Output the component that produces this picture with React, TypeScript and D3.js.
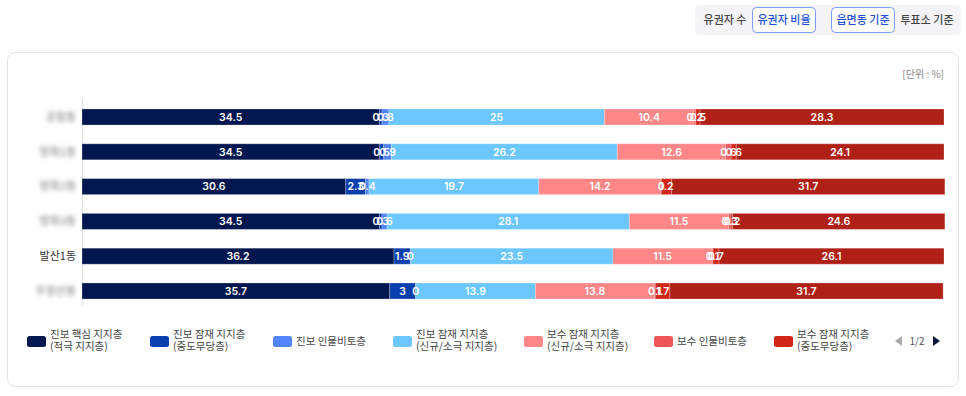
import React from "react";
import * as d3 from "d3";

const regions = ["공항동", "방화1동", "방화2동", "방화3동", "발산1동", "우장산동"];
const blurred = [true, true, true, true, false, true];

const seriesNames = [
  "진보 핵심 지지층 (적극 지지층)",
  "진보 잠재 지지층 (중도무당층)",
  "진보 인물비토층",
  "진보 잠재 지지층 (신규/소극 지지층)",
  "보수 잠재 지지층 (신규/소극 지지층)",
  "보수 인물비토층",
  "보수 잠재 지지층 (중도무당층)",
  "보수 핵심 지지층 (적극 지지층)",
];
const seriesColors = ["#02164F", "#0A3FAE", "#5284FA", "#6CC6FF", "#FF8787", "#F0555A", "#D12617", "#AF2116"];

const progCore = [34.5, 34.5, 30.6, 34.5, 36.2, 35.7];
const progModerate = [0.3, 0.5, 2.3, 0.3, 1.9, 3];
const progVeto = [0.8, 0.9, 0.4, 0.6, 0, 0];
const progNew = [25, 26.2, 19.7, 28.1, 23.5, 13.9];
const consNew = [10.4, 12.6, 14.2, 11.5, 11.5, 13.8];
const consVeto = [0.2, 0.6, 0, 0.3, 0.1, 0.1];
const consModerate = [0.5, 0.6, 1.2, 0.2, 0.7, 1.7];
const consCore = [28.3, 24.1, 31.7, 24.6, 26.1, 31.7];

const seriesValues = [progCore, progModerate, progVeto, progNew, consNew, consVeto, consModerate, consCore];

const legendLine1 = ["진보 핵심 지지층", "진보 잠재 지지층", "진보 인물비토층", "진보 잠재 지지층", "보수 잠재 지지층", "보수 인물비토층", "보수 잠재 지지층"];
const legendLine2 = ["(적극 지지층)", "(중도무당층)", "", "(신규/소극 지지층)", "(신규/소극 지지층)", "", "(중도무당층)"];

const KFONT = "'Noto Sans CJK KR', 'Noto Sans', sans-serif";

export default function App() {
  const W = 966, H = 396;
  const x = d3.scaleLinear().domain([0, 100]).range([82, 944]);
  const y = d3.scaleBand<string>().domain(regions).range([99.6, 308.4]).paddingInner(0.54).paddingOuter(0.27);

  const table = regions.map((r, i) => {
    const row: any = { region: r };
    seriesNames.forEach((s, j) => (row[s] = seriesValues[j][i]));
    return row;
  });
  const stacked = d3.stack<any>().keys(seriesNames)(table);

  const legendX = [27, 150, 273, 393, 524, 654, 774];

  return (
    <svg width={W} height={H} style={{ position: "absolute", left: 0, top: 0, background: "#fff" }} fontFamily={KFONT}>
      <defs>
        <filter id="blur" x="-20%" y="-50%" width="140%" height="200%">
          <feGaussianBlur stdDeviation="2" />
        </filter>
      </defs>
      {/* top toggle group */}
      <rect x={695} y={5} width={266} height={30} rx={5} fill="#F4F4F6" />
      <text x={725} y={24} fontSize={11} fontWeight={500} fill="#444" textAnchor="middle">유권자 수</text>
      <rect x={752.5} y={7.5} width={63} height={25} rx={4} fill="#fff" stroke="#7B9BFF" />
      <text x={784} y={24} fontSize={11} fontWeight={500} fill="#2250D9" textAnchor="middle">유권자 비율</text>
      <rect x={831.5} y={7.5} width={63} height={25} rx={4} fill="#fff" stroke="#7B9BFF" />
      <text x={863} y={24} fontSize={11} fontWeight={500} fill="#2250D9" textAnchor="middle">읍면동 기준</text>
      <text x={927} y={24} fontSize={11} fontWeight={500} fill="#444" textAnchor="middle">투표소 기준</text>

      {/* card */}
      <rect x={7.5} y={52.5} width={951} height={334} rx={8} fill="#fff" stroke="#E3E3E6" />
      <text x={944} y={78} fontSize={10} fill="#888" textAnchor="end">[단위 : %]</text>

      {/* y axis */}
      <line x1={82.5} x2={82.5} y1={98} y2={306} stroke="#DDDDDD" />
      {regions.map((r, i) => (
        <text key={r} x={76} y={(y(r) as number) + y.bandwidth() / 2} dy="0.35em" fontSize={11} fill={blurred[i] ? "#777" : "#333"} textAnchor="end" filter={blurred[i] ? "url(#blur)" : undefined}>
          {r}
        </text>
      ))}

      {/* bars */}
      {stacked.map((layer, j) => (
        <g key={layer.key}>
          {layer.map((d, i) => (
            <rect key={i} x={x(d[0])} y={y(regions[i]) as number} width={Math.max(0, x(d[1]) - x(d[0]))} height={y.bandwidth()} fill={seriesColors[j]} stroke="#ffffff" strokeOpacity={0.25} strokeWidth={1} />
          ))}
        </g>
      ))}
      {stacked.map((layer, j) => (
        <g key={"l" + layer.key}>
          {layer.map((d, i) => (
            <text key={i} x={(x(d[0]) + x(d[1])) / 2} y={(y(regions[i]) as number) + y.bandwidth() / 2} dy="0.36em" fontSize={10.5} fontWeight={600} fill="#fff" textAnchor="middle" fontFamily="Inter, 'Noto Sans', sans-serif">
              {String(seriesValues[j][i])}
            </text>
          ))}
        </g>
      ))}

      {/* legend */}
      {legendLine1.map((t, k) => (
        <g key={k} transform={`translate(${legendX[k]},0)`}>
          <rect x={0} y={336} width={19} height={11} rx={2.5} fill={seriesColors[k]} />
          {legendLine2[k] ? (
            <>
              <text x={23} y={338} fontSize={10.5} fill="#444">{t}</text>
              <text x={23} y={350} fontSize={10.5} fill="#444">{legendLine2[k]}</text>
            </>
          ) : (
            <text x={23} y={345} fontSize={10.5} fill="#444">{t}</text>
          )}
        </g>
      ))}
      <path d="M895,341 L902,336 L902,346 Z" fill="#AAAAAA" />
      <text x={917} y={345} fontSize={10} fill="#555" textAnchor="middle">1/2</text>
      <path d="M940,341 L933,336 L933,346 Z" fill="#0B1A3A" />
    </svg>
  );
}
